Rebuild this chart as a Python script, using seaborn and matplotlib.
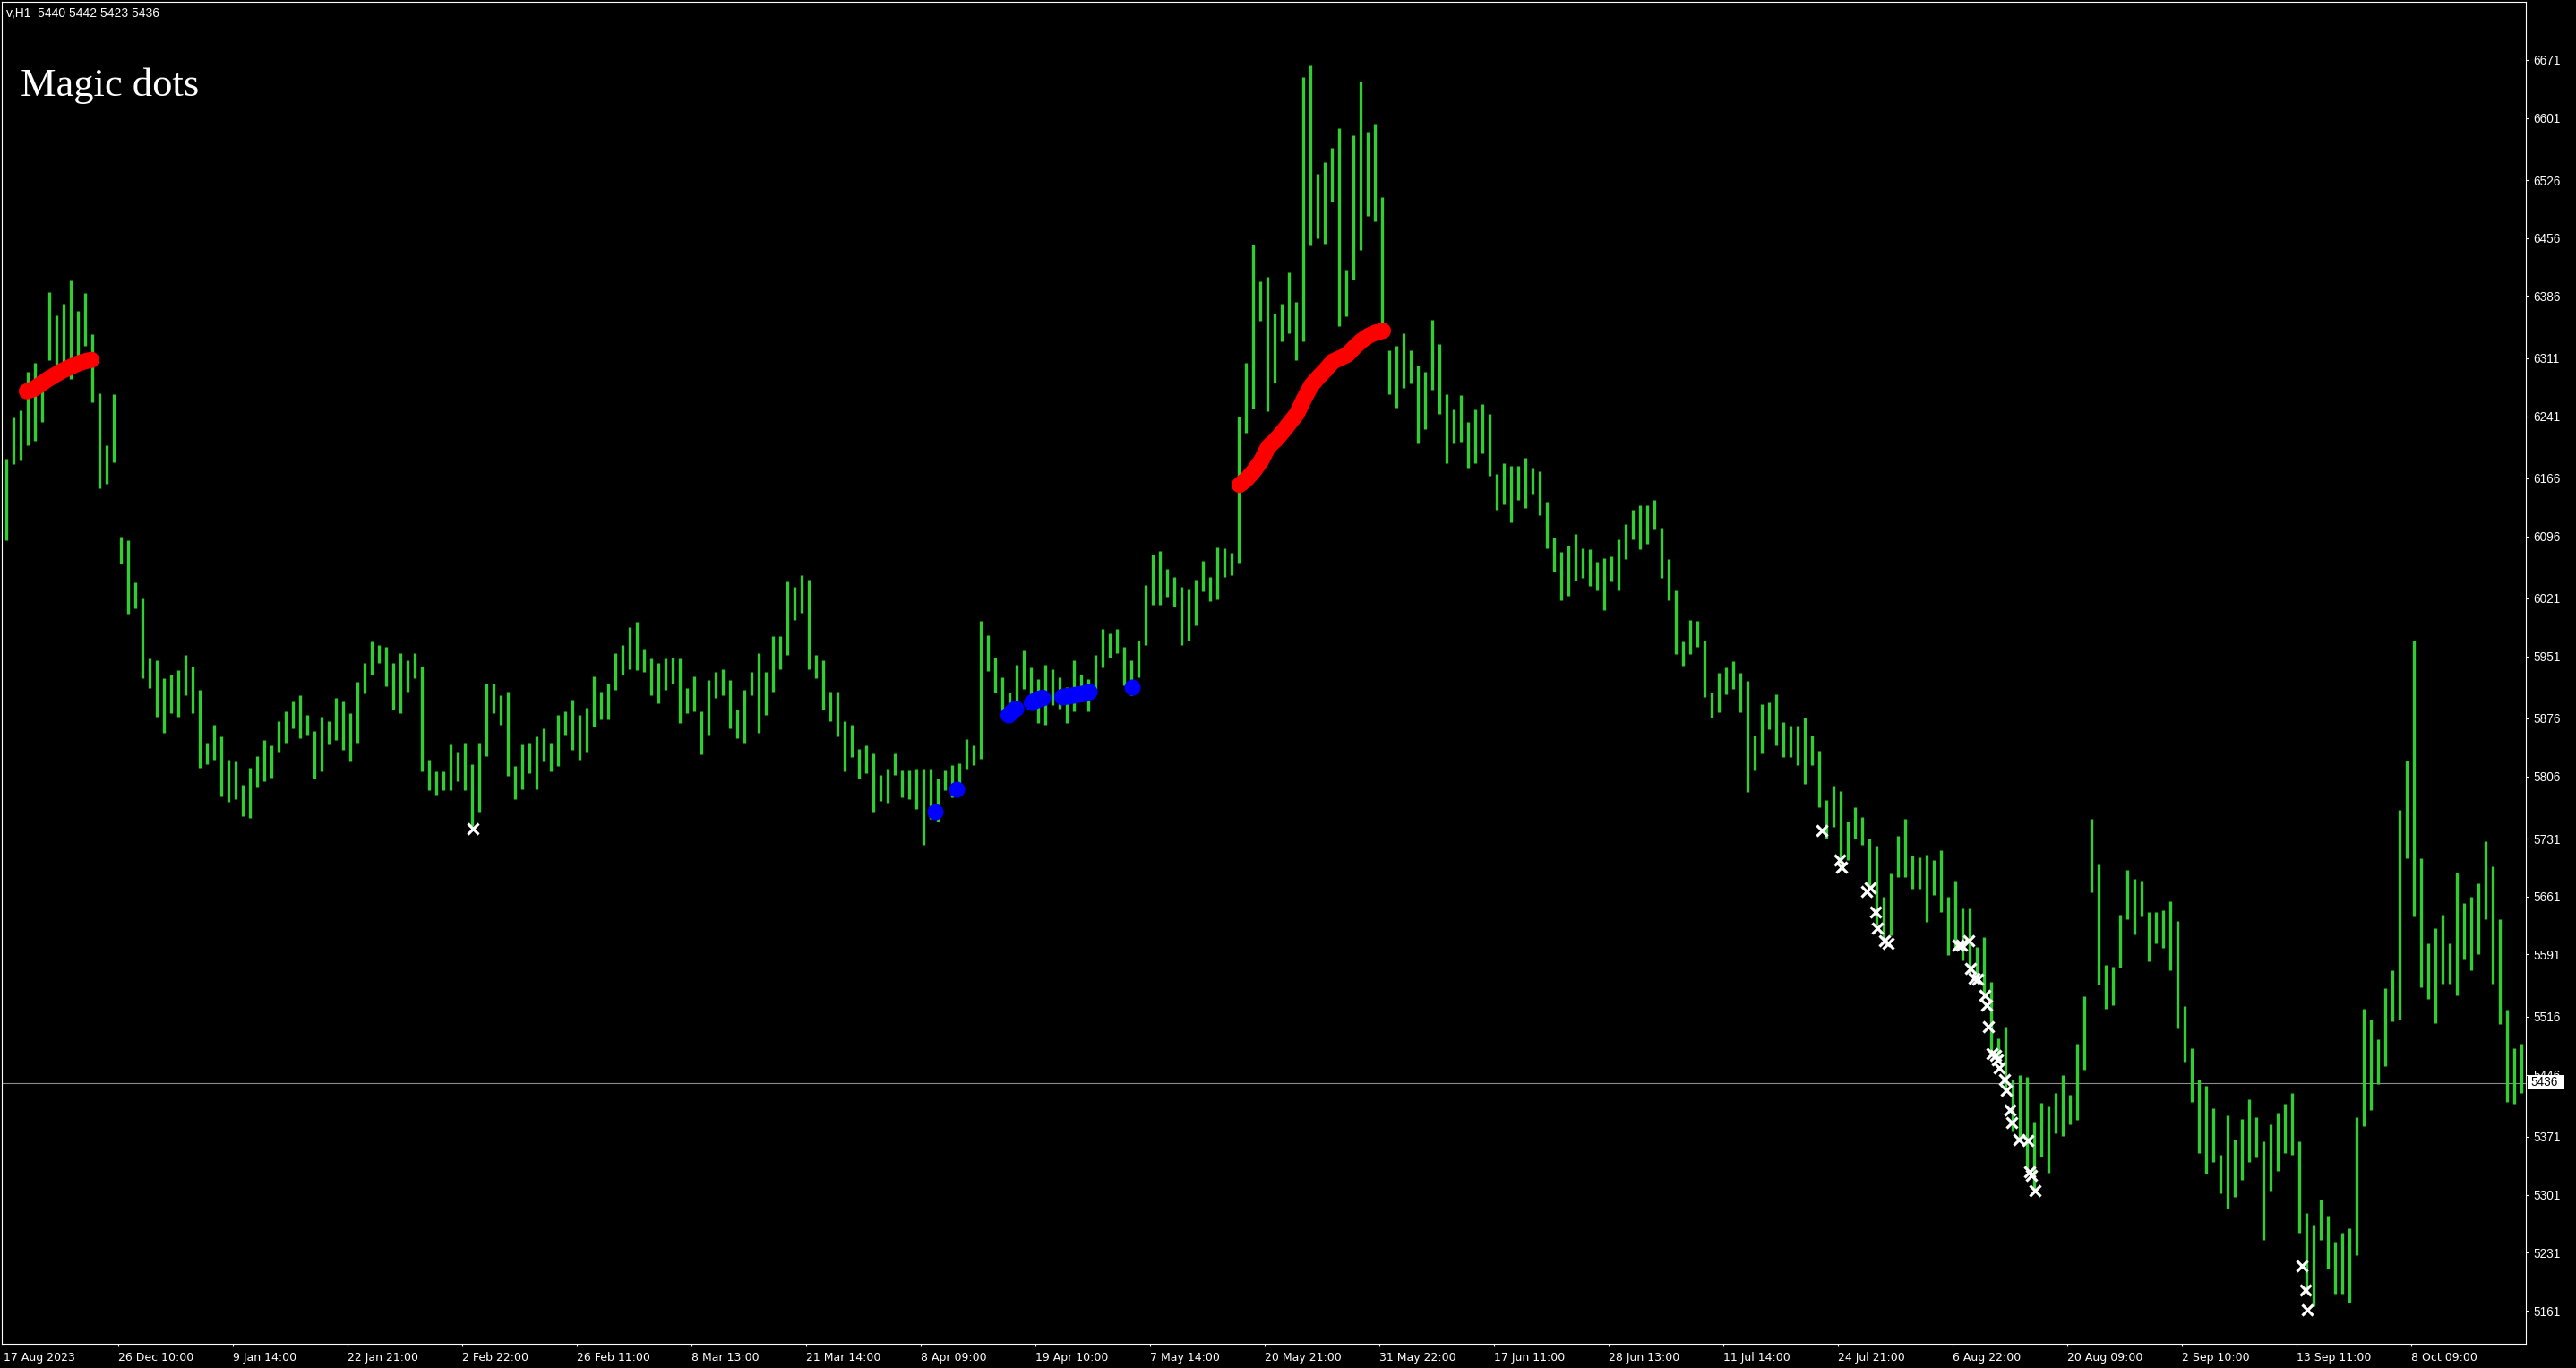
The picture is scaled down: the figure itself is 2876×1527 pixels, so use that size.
import numpy as np
import pandas as pd
import matplotlib
matplotlib.use("Agg")
import matplotlib.pyplot as plt
import seaborn as sns
from matplotlib.patches import Rectangle

# price bars, one entry per block of 4 H1 bars (high / low)
high = [6190, 6239, 6248, 6295, 6305, 6281, 6391, 6363, 6377, 6405, 6368, 6390, 6340, 6269, 6206, 6267,
        6096, 6091, 6040, 6021, 5948, 5946, 5925, 5929, 5934, 5953, 5939, 5911, 5847, 5868, 5854, 5826,
        5824, 5796, 5817, 5831, 5850, 5843, 5873, 5885, 5897, 5904, 5880, 5861, 5878, 5873, 5901, 5897,
        5882, 5920, 5943, 5969, 5965, 5962, 5943, 5955, 5946, 5955, 5939, 5826, 5812, 5812, 5845, 5836,
        5847, 5821, 5847, 5918, 5918, 5904, 5908, 5819, 5845, 5847, 5854, 5864, 5847, 5880, 5885, 5899,
        5880, 5889, 5927, 5908, 5918, 5955, 5965, 5986, 5993, 5960, 5948, 5943, 5948, 5950, 5948, 5913,
        5927, 5885, 5922, 5932, 5936, 5922, 5887, 5911, 5932, 5955, 5932, 5976, 5976, 6042, 6035, 6049,
        6044, 5953, 5946, 5908, 5908, 5873, 5868, 5839, 5844, 5834, 5808, 5815, 5834, 5813, 5813, 5815,
        5815, 5815, 5803, 5813, 5820, 5822, 5851, 5844, 5994, 5977, 5950, 5926, 5907, 5941, 5958, 5938,
        5924, 5941, 5936, 5926, 5914, 5946, 5929, 5924, 5953, 5984, 5979, 5984, 5962, 5946, 5970, 6037,
        6074, 6078, 6057, 6047, 6035, 6032, 6044, 6066, 6047, 6083, 6081, 6076, 6240, 6305, 6448, 6404,
        6409, 6365, 6377, 6415, 6379, 6650, 6664, 6534, 6548, 6565, 6589, 6418, 6580, 6645, 6584, 6594,
        6505, 6321, 6326, 6341, 6321, 6302, 6295, 6357, 6328, 6268, 6249, 6266, 6234, 6249, 6256, 6244,
        6171, 6184, 6181, 6181, 6191, 6179, 6174, 6138, 6094, 6077, 6085, 6099, 6082, 6080, 6065, 6070,
        6072, 6092, 6111, 6128, 6133, 6133, 6140, 6106, 6068, 6031, 5969, 5995, 5994, 5970, 5907, 5931,
        5938, 5945, 5931, 5921, 5855, 5893, 5895, 5905, 5872, 5867, 5867, 5877, 5855, 5837, 5778, 5795,
        5788, 5752, 5769, 5757, 5731, 5722, 5661, 5689, 5734, 5755, 5710, 5708, 5712, 5705, 5717, 5661,
        5680, 5647, 5647, 5600, 5612, 5558, 5490, 5504, 5440, 5445, 5443, 5389, 5412, 5408, 5424, 5445,
        5422, 5483, 5541, 5755, 5701, 5579, 5576, 5639, 5693, 5682, 5680, 5642, 5642, 5645, 5655, 5631,
        5529, 5478, 5440, 5432, 5405, 5349, 5397, 5368, 5392, 5416, 5395, 5365, 5386, 5400, 5411, 5424,
        5365, 5279, 5265, 5295, 5276, 5244, 5255, 5260, 5395, 5526, 5513, 5489, 5550, 5572, 5766, 5825,
        5970, 5707, 5604, 5623, 5639, 5604, 5690, 5653, 5661, 5677, 5728, 5698, 5634, 5524, 5478, 5483]
low = [6091, 6183, 6187, 6206, 6211, 6234, 6309, 6295, 6300, 6286, 6305, 6326, 6258, 6154, 6159, 6185,
       6063, 6002, 6009, 5925, 5913, 5878, 5859, 5882, 5878, 5904, 5882, 5817, 5821, 5826, 5782, 5775,
       5779, 5758, 5756, 5793, 5800, 5805, 5836, 5847, 5864, 5852, 5857, 5803, 5812, 5845, 5850, 5838,
       5824, 5847, 5906, 5929, 5943, 5915, 5887, 5882, 5908, 5925, 5812, 5789, 5784, 5789, 5789, 5800,
       5789, 5746, 5763, 5831, 5882, 5868, 5807, 5779, 5791, 5810, 5791, 5824, 5812, 5819, 5857, 5838,
       5826, 5836, 5866, 5875, 5875, 5911, 5929, 5936, 5934, 5932, 5904, 5894, 5911, 5918, 5871, 5882,
       5885, 5833, 5857, 5901, 5904, 5864, 5852, 5847, 5904, 5859, 5880, 5908, 5936, 5953, 5995, 6004,
       5936, 5925, 5887, 5873, 5854, 5812, 5829, 5803, 5810, 5764, 5776, 5774, 5808, 5781, 5779, 5767,
       5723, 5755, 5752, 5789, 5781, 5796, 5815, 5820, 5827, 5933, 5907, 5885, 5875, 5895, 5912, 5895,
       5871, 5868, 5892, 5888, 5871, 5885, 5897, 5885, 5909, 5938, 5950, 5955, 5916, 5904, 5926, 5965,
       6013, 6013, 6023, 6011, 5965, 5970, 5989, 6030, 6018, 6020, 6047, 6049, 6064, 6221, 6250, 6356,
       6247, 6282, 6331, 6341, 6309, 6331, 6447, 6456, 6449, 6500, 6350, 6362, 6406, 6442, 6483, 6476,
       6353, 6268, 6251, 6275, 6280, 6208, 6225, 6273, 6244, 6184, 6208, 6210, 6179, 6184, 6196, 6169,
       6128, 6135, 6113, 6140, 6130, 6147, 6121, 6082, 6053, 6019, 6024, 6043, 6046, 6036, 6031, 6007,
       6041, 6031, 6068, 6092, 6080, 6087, 6104, 6046, 6019, 5954, 5940, 5954, 5963, 5902, 5877, 5884,
       5905, 5912, 5884, 5787, 5813, 5834, 5863, 5844, 5830, 5830, 5820, 5797, 5820, 5769, 5731, 5745,
       5698, 5705, 5731, 5724, 5675, 5626, 5609, 5614, 5684, 5684, 5670, 5670, 5630, 5663, 5642, 5590,
       5600, 5584, 5569, 5558, 5539, 5473, 5464, 5426, 5377, 5370, 5333, 5304, 5347, 5328, 5375, 5372,
       5386, 5391, 5452, 5666, 5555, 5525, 5530, 5575, 5634, 5615, 5637, 5583, 5604, 5599, 5572, 5502,
       5462, 5413, 5351, 5327, 5341, 5303, 5284, 5298, 5319, 5341, 5346, 5247, 5306, 5330, 5351, 5349,
       5255, 5185, 5166, 5247, 5212, 5182, 5182, 5171, 5228, 5384, 5403, 5435, 5456, 5510, 5513, 5707,
       5637, 5551, 5537, 5508, 5556, 5556, 5542, 5585, 5572, 5591, 5634, 5556, 5507, 5413, 5411, 5424]

x_labels = ["17 Aug 2023", "26 Dec 10:00", "9 Jan 14:00", "22 Jan 21:00", "2 Feb 22:00",
            "26 Feb 11:00", "8 Mar 13:00", "21 Mar 14:00", "8 Apr 09:00", "19 Apr 10:00",
            "7 May 14:00", "20 May 21:00", "31 May 22:00", "17 Jun 11:00", "28 Jun 13:00",
            "11 Jul 14:00", "24 Jul 21:00", "6 Aug 22:00", "20 Aug 09:00", "2 Sep 10:00",
            "13 Sep 11:00", "8 Oct 09:00"]
y_ticks = [5161, 5231, 5301, 5371, 5446, 5516, 5591, 5661, 5731, 5806, 5876,
           5951, 6021, 6096, 6166, 6241, 6311, 6386, 6456, 6526, 6601, 6671]

# indicator dots (H1 bar index, price)
red1_bar = [13, 17, 21, 25, 29, 33, 37, 41, 45, 49]
red1_val = [6271, 6274, 6280, 6286, 6291, 6296, 6300, 6304, 6307, 6309]
red2_bar = [690, 694, 698, 702, 706, 710, 714, 718, 722, 726, 730,
            734, 738, 742, 746, 750, 754, 758, 762, 766, 770]
red2_val = [6158, 6165, 6175, 6187, 6204, 6212, 6222, 6233, 6244, 6262, 6278,
            6288, 6297, 6307, 6311, 6315, 6324, 6332, 6338, 6342, 6344]
blue_bar = [520, 532, 561, 565, 574, 577, 580, 591, 594, 597, 600, 603, 606, 630]
blue_val = [5764, 5791, 5880, 5888, 5895, 5899, 5901, 5902, 5903, 5904, 5905, 5906, 5908, 5914]
blue_grp = [0, 1, 2, 2, 3, 3, 3, 4, 4, 4, 4, 4, 4, 5]
cross_bar = [262, 1015, 1025, 1026, 1040, 1042, 1045, 1046, 1050, 1052, 1091, 1093, 1097, 1098,
             1100, 1102, 1106, 1107, 1108, 1110, 1112, 1113, 1114, 1117, 1118, 1120, 1121, 1125,
             1130, 1131, 1132, 1134, 1283, 1285, 1286]
cross_val = [5743, 5741, 5705, 5696, 5667, 5672, 5642, 5623, 5608, 5604, 5602, 5602, 5608, 5574,
             5562, 5561, 5542, 5530, 5504, 5471, 5469, 5464, 5454, 5440, 5427, 5403, 5388, 5368,
             5367, 5329, 5324, 5306, 5215, 5186, 5162]

last_price = 5436
header = "v,H1  5440 5442 5423 5436"

sns.set_theme(style="dark", rc={"axes.facecolor": "black", "figure.facecolor": "black"})
plt.rcParams["font.family"] = ["Liberation Sans", "DejaVu Sans"]

W, H = 2876, 1527
fig = plt.figure(figsize=(W / 100, H / 100), dpi=100, facecolor="black")
ax = fig.add_axes([2 / W, 1 - 1500 / H, 2818 / W, 1498 / H])
ax.set_facecolor("black")

bars = pd.DataFrame({"high": high, "low": low})
bars["x"] = bars.index * 4 + 1.5
ax.vlines(bars["x"], bars["low"], bars["high"], color="#32cd32", linewidth=2.4, zorder=2)

ax.axhline(last_price, color="#8c8c8c", linewidth=0.8, zorder=1)

# dots sit so close together that they merge into a thick band
DOT = 13
for bx, by in [(red1_bar, red1_val), (red2_bar, red2_val)]:
    sns.lineplot(x=bx, y=by, color="#ff0000", linewidth=DOT, solid_capstyle="round",
                 sort=False, ax=ax, zorder=3, legend=False)
blue = pd.DataFrame({"bar": blue_bar, "val": blue_val, "grp": blue_grp})
for g, d in blue.groupby("grp"):
    if len(d) > 1:
        sns.lineplot(data=d, x="bar", y="val", color="#0000ff", linewidth=DOT, solid_capstyle="round",
                     sort=False, ax=ax, zorder=3, legend=False)
sns.scatterplot(data=blue, x="bar", y="val", color="#0000ff", s=DOT ** 2, linewidth=0,
                ax=ax, zorder=3, legend=False)
sns.scatterplot(x=cross_bar, y=cross_val, color="white", marker="x", s=75, linewidth=2.3,
                ax=ax, zorder=4, legend=False)

ax.set_xlim(-1, 1408)
ax.set_ylim(5121.0, 6741.3)
ax.grid(False)
for sp in ax.spines.values():
    sp.set_color("white")
    sp.set_linewidth(0.8)

ax.set_xticks(np.arange(len(x_labels)) * 64)
ax.set_xticklabels(x_labels, ha="left", family=["DejaVu Sans"])
ax.set_yticks(y_ticks)
ax.set_yticklabels([str(v) for v in y_ticks])
ax.tick_params(axis="x", bottom=True, direction="out", length=2.5, width=0.8, color="white",
               labelcolor="white", labelsize=9.0, pad=4)
ax.tick_params(axis="y", left=False, labelleft=False, right=True, labelright=True, direction="out",
               length=2.5, width=0.8, color="white", labelcolor="white", labelsize=9.8, pad=3.5)
ax.set_xlabel("")
ax.set_ylabel("")

# current price tag on the right scale
fig.patches.append(Rectangle((2822 / W, 1 - 1216 / H), 41 / W, 16 / H, transform=fig.transFigure,
                             facecolor="white", edgecolor="none", zorder=5))
fig.text(2825 / W, 1 - 1208 / H, str(last_price), color="black", fontsize=9.8, va="center", zorder=6)

fig.text(7 / W, 1 - 8 / H, header, color="white", fontsize=10, va="top")
fig.text(23 / W, 1 - 107 / H, "Magic dots", color="white", fontsize=32, va="baseline",
         family=["Liberation Serif", "DejaVu Serif"])

fig.savefig("out.png", dpi=100, facecolor="black")
